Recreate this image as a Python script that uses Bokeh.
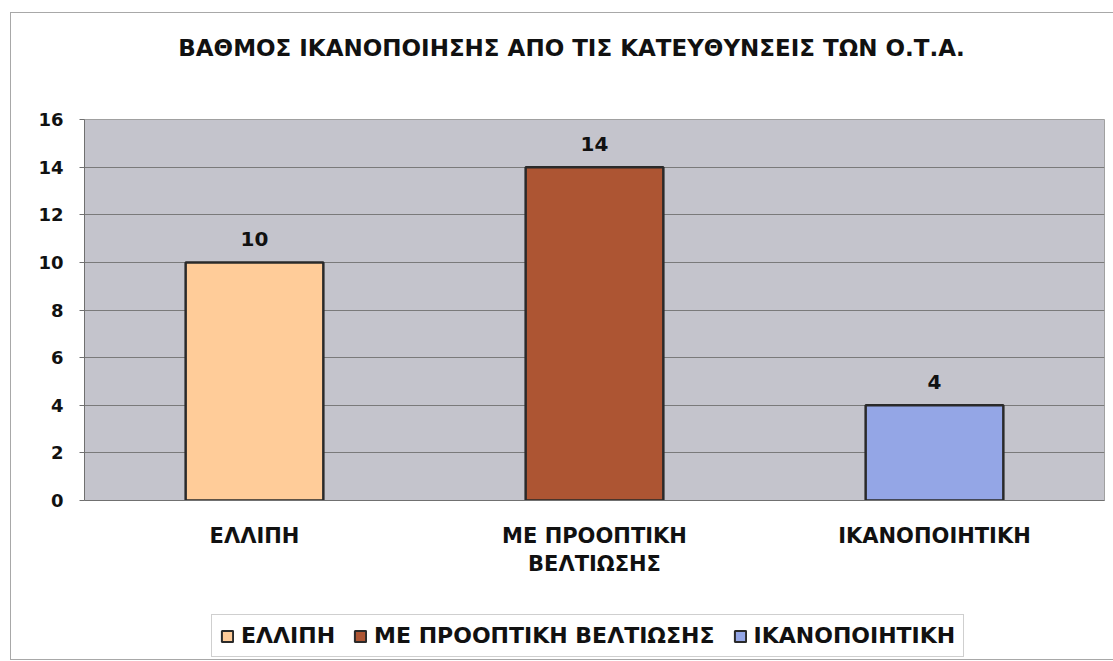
from bokeh.plotting import figure
from bokeh.models import ColumnDataSource, Legend, LegendItem, FixedTicker, Column, FactorRange, Label
from bokeh.embed import file_html
from bokeh.resources import INLINE
from bokeh.core.properties import value

title_text = "ΒΑΘΜΟΣ ΙΚΑΝΟΠΟΙΗΣΗΣ ΑΠΟ ΤΙΣ ΚΑΤΕΥΘΥΝΣΕΙΣ ΤΩΝ Ο.Τ.Α."
categories = ["ΕΛΛΙΠΗ", "ΜΕ ΠΡΟΟΠΤΙΚΗ\nΒΕΛΤΙΩΣΗΣ", "ΙΚΑΝΟΠΟΙΗΤΙΚΗ"]
legend_names = ["ΕΛΛΙΠΗ", "ΜΕ ΠΡΟΟΠΤΙΚΗ ΒΕΛΤΙΩΣΗΣ", "ΙΚΑΝΟΠΟΙΗΤΙΚΗ"]
values = [10, 14, 4]
colors = ["#FFCC99", "#AD5533", "#94A6E6"]
y_ticks = [0, 2, 4, 6, 8, 10, 12, 14, 16]

FONT = "DejaVu Sans"

src = ColumnDataSource(dict(cat=categories, val=values, color=colors,
                            lab=[str(v) for v in values]))

# ---------- title strip ----------
tt = figure(width=1102, height=70, output_backend="svg", toolbar_location=None,
            x_range=(0, 1), y_range=(0, 1), min_border=0,
            x_axis_location=None, y_axis_location=None)
tt.grid.visible = False
tt.outline_line_color = None
tt.background_fill_color = "#FFFFFF"
tt.border_fill_color = "#FFFFFF"
tt.add_layout(Label(x=487, y=36, x_units="screen", y_units="screen",
                    text=title_text, text_align="center", text_baseline="middle",
                    text_font=FONT, text_font_size="23px", text_font_style="bold",
                    text_color="#111111"))

# ---------- main chart ----------
p = figure(x_range=categories, y_range=(0, 16), width=1102, height=496,
           output_backend="svg", toolbar_location=None, title=None,
           min_border_left=73, min_border_top=36, min_border_right=9,
           min_border_bottom=71)

p.background_fill_color = "#C4C4CC"
p.border_fill_color = "#FFFFFF"
p.outline_line_color = "#A0A0A0"

p.vbar(x="cat", top="val", source=src, width=0.405, fill_color="color",
       line_color="#2A2A2A", line_width=2.5)

p.text(x="cat", y="val", text="lab", source=src, text_align="center",
       text_baseline="alphabetic", y_offset=-23, text_font=value(FONT),
       text_font_size="20px", text_font_style="bold", text_color="#111111")

p.xgrid.visible = False
p.ygrid.grid_line_color = "#7A7A7A"
p.ygrid.grid_line_width = 1
p.yaxis.ticker = FixedTicker(ticks=y_ticks)
p.yaxis.minor_tick_line_color = None
p.yaxis.major_tick_out = 5
p.yaxis.major_tick_in = 0
p.yaxis.axis_line_color = "#707070"
p.yaxis.major_tick_line_color = "#707070"
p.yaxis.major_label_text_font = FONT
p.yaxis.major_label_text_font_size = "18px"
p.yaxis.major_label_text_font_style = "bold"
p.yaxis.major_label_text_color = "#111111"
p.yaxis.major_label_standoff = 16

p.xaxis.axis_line_color = "#707070"
p.xaxis.major_tick_line_color = None
p.xaxis.major_tick_out = 0
p.xaxis.major_tick_in = 0
p.xaxis.major_label_text_font = FONT
p.xaxis.major_label_text_font_size = "21px"
p.xaxis.major_label_text_font_style = "bold"
p.xaxis.major_label_text_color = "#111111"
p.xaxis.major_label_standoff = 23

# ---------- legend strip (bars not drawn: bottom is NaN) ----------
lg = figure(width=1102, height=80, output_backend="svg", toolbar_location=None,
            x_range=FactorRange(*categories), y_range=(0, 16), min_border=0,
            x_axis_location=None, y_axis_location=None)
lg.grid.visible = False
lg.outline_line_color = None
lg.background_fill_color = "#FFFFFF"
lg.border_fill_color = "#FFFFFF"

r = lg.vbar(x="cat", top="val", bottom=float("nan"), source=src, width=0.4,
            fill_color="color", line_color="#2A2A2A", line_width=2)
items = [LegendItem(label=legend_names[i], renderers=[r], index=i) for i in range(3)]

legend = Legend(items=items, orientation="horizontal", location=(127, 2),
                label_text_font=FONT, label_text_font_size="22px",
                label_text_font_style="bold", label_text_color="#111111",
                glyph_width=14, glyph_height=14, spacing=18, label_standoff=7,
                padding=8, margin=0,
                border_line_color="#A0A0A0", background_fill_color="#FFFFFF",
                background_fill_alpha=1.0)
lg.add_layout(legend, "center")

layout = Column(children=[tt, p, lg], spacing=0,
                styles={"border": "1px solid #a8a8a8", "margin-left": "10px",
                        "margin-top": "12px"})

open("out.html", "w").write(file_html(layout, INLINE))
